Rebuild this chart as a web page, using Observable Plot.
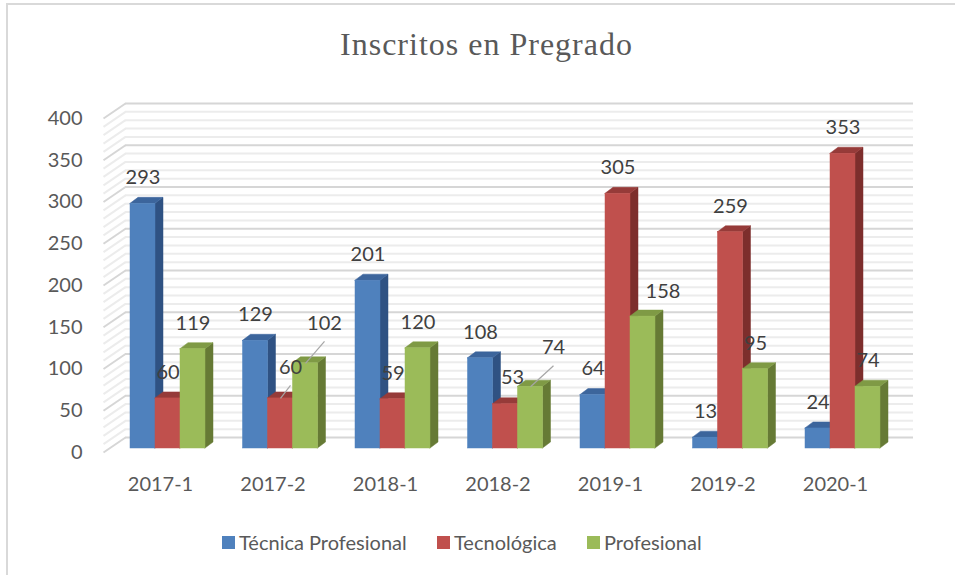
<!DOCTYPE html>
<html>
<head>
<meta charset="utf-8">
<script src="https://cdn.jsdelivr.net/npm/d3@7"></script>
<script src="https://cdn.jsdelivr.net/npm/@observablehq/plot@0.6"></script>
<style>
  body { margin: 0; background: #fff; width: 955px; height: 575px; overflow: hidden; position: relative; }
  #frame { position: absolute; left: 6px; top: 3px; width: 1000px; height: 700px; border: 2px solid #D9D9D9; box-sizing: border-box; }
  #chart { position: absolute; left: 0; top: 0; }
  #title { position: absolute; left: 0; top: 28px; width: 973px; text-align: center; font-family: "Liberation Serif", serif; font-size: 32px; line-height: 32px; color: #595959; letter-spacing: 1px; }
  .leg { position: absolute; top: 530px; height: 24px; display: flex; align-items: center; font-family: Lato, sans-serif; font-size: 20px; color: #595959; white-space: nowrap; }
  .leg i { display: inline-block; width: 13px; height: 13px; margin-right: 4px; }
</style>
</head>
<body>
<div id="frame"></div>
<div id="chart"></div>
<div id="title">Inscritos en Pregrado</div>
<div id="legend"></div>
<script>
// ---- data ----
const periods = ["2017-1", "2017-2", "2018-1", "2018-2", "2019-1", "2019-2", "2020-1"];
const seriesNames = ["Técnica Profesional", "Tecnológica", "Profesional"];
const tecnicaProfesional = [293, 129, 201, 108, 64, 13, 24];
const tecnologica = [60, 60, 59, 53, 305, 259, 353];
const profesional = [119, 102, 120, 74, 158, 95, 74];
const yTickValues = [0, 50, 100, 150, 200, 250, 300, 350, 400];

// ---- styles ----
const frontColors = ["#4F81BD", "#C0504D", "#9BBB59"];
const sideColors = ["#2F5283", "#7D2E2C", "#667A35"];
const topColors = ["#3C659C", "#963B39", "#7F9A45"];
// label nudges (px) for labels Excel moved: [dx, dy, leader line]
const labelNudges = {
  "2017-2|Tecnológica": [10, -5, true],
  "2017-2|Profesional": [19, -14, true],
  "2018-2|Tecnológica": [7, -1, false],
  "2018-2|Profesional": [23, -13, true],
  "2019-1|Profesional": [20, 1, false]
};

// ---- geometry ----
const W = 955, H = 520, mL = 103, mR = 42, mT = 118, mB = 68;
const xDomain = [-0.24, 6.96];
const pxPerU = (W - mL - mR) / (xDomain[1] - xDomain[0]);
const pxPerV = (H - mT - mB) / 400;
const px = p => p / pxPerU;
const pv = p => p / pxPerV;
const barW = px(25), depthX = px(8), depthY = pv(6), floorV = pv(4);
const wallX = px(22), wallY = pv(15);

const seriesValues = [tecnicaProfesional, tecnologica, profesional];
const bars = [];
seriesValues.forEach((vals, k) => {
  vals.forEach((v, i) => {
    const xl = i + k * barW;
    bars.push({k, series: seriesNames[k], period: periods[i], v, xl, xr: xl + barW, base: floorV, top: floorV + v});
  });
});

const minorTicks = d3.range(0, 401, 10);
const majorTicks = d3.range(0, 401, 50);

const marks = [];
// back wall gridlines + side wall diagonals
marks.push(Plot.ruleY(minorTicks.filter(d => d % 50 !== 0), {y: d => d + wallY, x1: xDomain[0] + wallX, x2: xDomain[1], stroke: "#ECECEC", strokeWidth: 2}));
marks.push(Plot.link(minorTicks.filter(d => d % 50 !== 0), {x1: xDomain[0], y1: d => d, x2: xDomain[0] + wallX, y2: d => d + wallY, stroke: "#ECECEC", strokeWidth: 2}));
marks.push(Plot.ruleY(majorTicks, {y: d => d + wallY, x1: xDomain[0] + wallX, x2: xDomain[1], stroke: "#D6D6D6", strokeWidth: 2}));
marks.push(Plot.link(majorTicks, {x1: xDomain[0], y1: d => d, x2: xDomain[0] + wallX, y2: d => d + wallY, stroke: "#D6D6D6", strokeWidth: 2}));

// bars: series by series (left to right within each group)
for (let k = 0; k < 3; k++) {
  const bk = bars.filter(b => b.k === k);
  const side = bk.flatMap((b, j) => [
    {id: j, x: b.xr, y1: b.base, y2: b.top},
    {id: j, x: b.xr + depthX, y1: b.base + depthY, y2: b.top + depthY}
  ]);
  const topF = bk.flatMap((b, j) => [
    {id: j, y: b.top, x1: b.xl, x2: b.xr},
    {id: j, y: b.top + depthY, x1: b.xl + depthX, x2: b.xr + depthX}
  ]);
  marks.push(Plot.areaY(side, {x: "x", y1: "y1", y2: "y2", z: "id", fill: sideColors[k], stroke: sideColors[k], strokeWidth: 0.5}));
  marks.push(Plot.areaX(topF, {y: "y", x1: "x1", x2: "x2", z: "id", fill: topColors[k], stroke: topColors[k], strokeWidth: 0.5}));
  marks.push(Plot.rect(bk, {x1: "xl", x2: "xr", y1: "base", y2: "top", fill: frontColors[k], stroke: frontColors[k], strokeWidth: 0.5}));
}

// leader lines
const nudge = b => labelNudges[b.period + "|" + b.series] || [0, 0, false];
const leaders = bars.filter(b => nudge(b)[2]);
marks.push(Plot.link(leaders, {
  x1: b => b.xl + barW / 2, y1: b => b.top,
  x2: b => b.xl + barW / 2 + px(nudge(b)[0]), y2: b => b.top + pv(8 - nudge(b)[1]),
  stroke: "#A6A6A6", strokeWidth: 1.2
}));

// data labels
marks.push(Plot.text(bars, {
  x: b => b.xl + barW / 2 + px(nudge(b)[0]),
  y: b => b.top - pv(nudge(b)[1]),
  text: b => String(b.v),
  dy: -26, lineAnchor: "middle", textAnchor: "middle",
  fill: "#404040", fontSize: 20
}));

// category labels
marks.push(Plot.text(periods, {
  x: (d, i) => i + px(30), y: 0, text: d => d,
  dy: 32, lineAnchor: "middle", textAnchor: "middle",
  fill: "#595959", fontSize: 20
}));

const chart = Plot.plot({
  width: W, height: H,
  marginLeft: mL, marginRight: mR, marginTop: mT, marginBottom: mB,
  style: "font-family: Lato, sans-serif; font-size: 20px; color: #595959; background: transparent; overflow: visible;",
  x: {domain: xDomain, axis: null},
  y: {domain: [0, 400], ticks: yTickValues.length - 1, tickSize: 0, tickPadding: 21, tickFormat: d => String(d), line: false},
  marks
});
document.getElementById("chart").appendChild(chart);

// legend
const leftPos = [222, 437, 587];
const legend = document.getElementById("legend");
seriesNames.forEach((name, k) => {
  const el = document.createElement("div");
  el.className = "leg";
  el.style.left = leftPos[k] + "px";
  el.innerHTML = `<i style="background:${frontColors[k]}"></i><span>${name}</span>`;
  legend.appendChild(el);
});
</script>
</body>
</html>
